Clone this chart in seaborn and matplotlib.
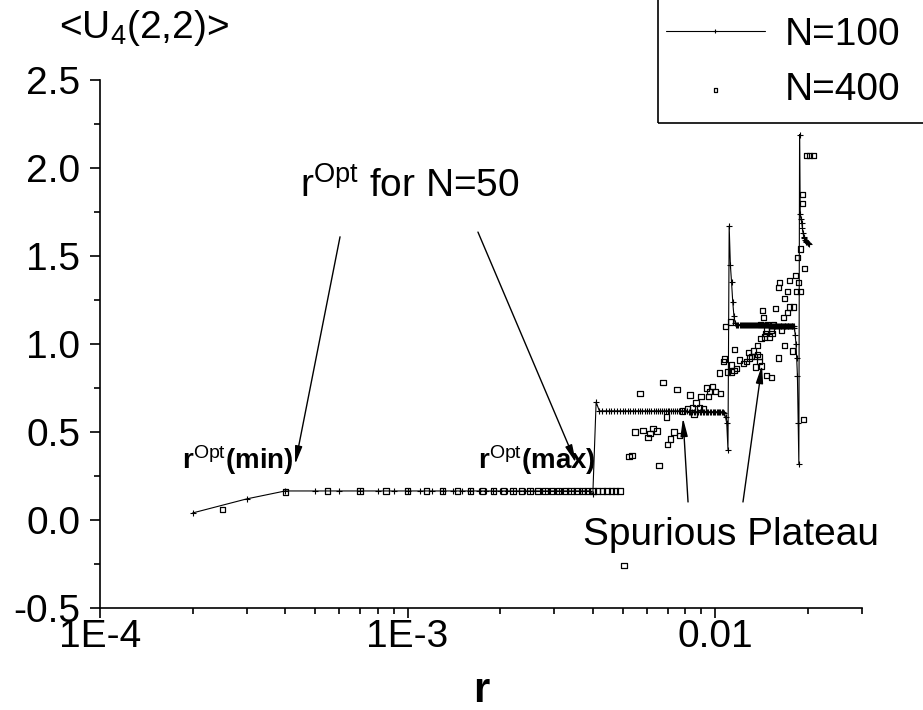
import numpy as np
import pandas as pd
import matplotlib
matplotlib.use("Agg")
import matplotlib.pyplot as plt
import matplotlib.ticker as mticker
from matplotlib.patches import Rectangle
import seaborn as sns

# ---- N=100 : r = k*1e-4, k = 2..202 ----
r100 = np.arange(2, 203) * 1e-4
u100 = ([0.04, 0.12, 0.165] + [0.165] * 35 + [0.145, 0.67]
        + [0.62] * 40 + [0.615] * 25
        + [0.61, 0.585, 0.55, 0.40, 1.67]
        + [1.45, 1.35, 1.24, 1.16, 1.12]
        + [1.11] * 32 + [1.10] * 32
        + [1.09, 1.05, 1.00, 0.92, 0.82, 0.55, 0.32, 2.19]
        + [1.74, 1.71, 1.69, 1.66, 1.63, 1.61, 1.60, 1.59, 1.585,
           1.58, 1.58, 1.575, 1.575, 1.57])

# ---- N=400 : flat part on a regular grid ----
r400_row = np.linspace(2.5e-4, 4.9e-3, 32)
u400_row = [0.06, 0.16] + [0.165] * 30

# ---- N=400 : scattered part ----
r400_scat = [5.05e-3, 5.25e-3, 5.37e-3, 5.49e-3, 5.70e-3, 5.83e-3, 6.05e-3,
             6.14e-3, 6.28e-3, 6.47e-3, 6.57e-3, 6.77e-3, 6.93e-3, 6.98e-3,
             7.14e-3, 7.35e-3, 7.52e-3, 7.64e-3, 7.81e-3, 8.11e-3, 8.29e-3,
             8.42e-3, 8.54e-3, 8.67e-3, 8.87e-3, 9.00e-3, 9.14e-3, 9.35e-3,
             9.49e-3, 9.56e-3, 9.78e-3, 1.000e-2, 1.031e-2, 1.038e-2,
             1.062e-2, 1.070e-2, 1.078e-2, 1.094e-2, 1.119e-2, 1.128e-2,
             1.128e-2, 1.150e-2, 1.153e-2, 1.171e-2, 1.198e-2, 1.234e-2,
             1.262e-2, 1.281e-2, 1.291e-2, 1.310e-2, 1.330e-2, 1.340e-2,
             1.350e-2, 1.371e-2, 1.371e-2, 1.390e-2, 1.391e-2, 1.402e-2,
             1.410e-2, 1.412e-2, 1.423e-2, 1.434e-2, 1.445e-2, 1.460e-2,
             1.466e-2, 1.466e-2, 1.477e-2, 1.500e-2, 1.522e-2, 1.522e-2,
             1.530e-2, 1.545e-2, 1.569e-2, 1.604e-2, 1.604e-2, 1.617e-2,
             1.641e-2, 1.666e-2, 1.678e-2, 1.678e-2, 1.717e-2, 1.717e-2,
             1.742e-2, 1.742e-2, 1.782e-2, 1.796e-2, 1.823e-2, 1.836e-2,
             1.850e-2, 1.864e-2, 1.892e-2, 1.892e-2, 1.921e-2, 1.921e-2,
             1.935e-2, 1.950e-2, 1.979e-2, 2.024e-2, 2.086e-2]
u400_scat = [-0.26, 0.36, 0.365, 0.50, 0.72, 0.51, 0.47,
             0.49, 0.52, 0.505, 0.31, 0.78, 0.585, 0.43,
             0.46, 0.50, 0.74, 0.48, 0.62, 0.635, 0.71,
             0.64, 0.60, 0.665, 0.64, 0.70, 0.635, 0.75,
             0.70, 0.73, 0.76, 0.73, 0.835, 0.72,
             0.90, 0.915, 1.10, 0.84, 1.125, 0.84,
             0.88, 0.85, 0.97, 0.86, 0.91, 0.89,
             0.90, 0.95, 0.92, 0.93, 0.96, 0.93,
             0.87, 0.94, 0.99, 0.90, 0.93, 1.11,
             1.03, 0.875, 1.19, 1.15, 1.04, 1.06,
             1.08, 0.82, 1.11, 1.04, 1.08, 0.81,
             1.06, 1.11, 1.20, 0.92, 1.32, 1.35,
             1.08, 1.15, 1.26, 0.99, 1.18, 1.30,
             1.36, 1.21, 0.96, 1.21, 1.39, 1.30,
             1.49, 1.35, 1.54, 1.30, 1.80, 1.85,
             0.57, 1.43, 2.07, 2.07, 2.07]

df100 = pd.DataFrame({"r": r100, "u": u100})
df400 = pd.DataFrame({"r": np.concatenate([r400_row, r400_scat]),
                      "u": list(u400_row) + u400_scat})

sns.set_theme(style="ticks")
plt.rcParams["font.family"] = ["Liberation Sans", "DejaVu Sans"]
plt.rcParams["mathtext.fontset"] = "custom"
plt.rcParams["mathtext.rm"] = "Liberation Sans"
plt.rcParams["mathtext.it"] = "Liberation Sans:italic"
plt.rcParams["mathtext.bf"] = "Liberation Sans:bold"
plt.rcParams["text.color"] = "black"
plt.rcParams["axes.labelcolor"] = "black"

fig = plt.figure(figsize=(9.23, 7.10), dpi=100)
ax = fig.add_axes([100 / 923, 102 / 710, 762 / 923, 528 / 710])

sns.lineplot(data=df100, x="r", y="u", color="black", linewidth=0.8,
             marker="+", markersize=4, markeredgewidth=0.8,
             markeredgecolor="black", estimator=None, sort=False,
             label="N=100", ax=ax)
sns.scatterplot(data=df400, x="r", y="u", marker="s", s=15,
                facecolor="none", edgecolor="black", linewidth=0.9,
                label="N=400", ax=ax, zorder=3)

ax.set_xscale("log")
ax.set_xlim(1e-4, 0.03)
ax.set_ylim(-0.5, 2.5)
sns.despine(ax=ax)
for s in ["left", "bottom"]:
    ax.spines[s].set_linewidth(1.2)
    ax.spines[s].set_color("black")

ax.set_xticks([1e-4, 1e-3, 1e-2])
ax.set_xticklabels(["1E-4", "1E-3", "0.01"])
ax.xaxis.set_minor_locator(mticker.LogLocator(base=10, subs=np.arange(2, 10)))
ax.xaxis.set_minor_formatter(mticker.NullFormatter())
ax.set_yticks(np.arange(-0.5, 2.51, 0.5))
ax.yaxis.set_major_formatter(mticker.FormatStrFormatter("%.1f"))
ax.yaxis.set_minor_locator(mticker.MultipleLocator(0.25))
ax.tick_params(which="major", direction="out", length=7.2, width=1.2,
               labelsize=28, colors="black")
ax.tick_params(which="minor", direction="out", length=4, width=1.2,
               colors="black")
ax.tick_params(axis="y", which="major", pad=7)
ax.tick_params(axis="x", which="major", pad=1)

ax.set_xlabel("r", fontsize=30, fontweight="bold", labelpad=11)
ax.set_ylabel("<U$_4$(2,2)>", fontsize=28, rotation=0, ha="center",
              va="center")
ax.yaxis.set_label_coords(0.058, 1.098)

# annotations
big = 28
ax.text(0.2625, 0.80, r"r$^{\mathrm{Opt}}$ for N=50", transform=ax.transAxes,
        fontsize=big, ha="left", va="center")
arrow = dict(arrowstyle="-|>,head_length=0.9,head_width=0.18", color="black",
             lw=1, shrinkA=0, shrinkB=0)
ax.annotate("", xy=(0.256, 0.272), xytext=(0.315, 0.703),
            xycoords="axes fraction", arrowprops=arrow)
ax.annotate("", xy=(0.6247, 0.2747), xytext=(0.496, 0.712),
            xycoords="axes fraction", arrowprops=arrow)
ax.text(0.107, 0.28, r"r$^{\mathrm{Opt}}$(min)", transform=ax.transAxes,
        fontsize=20, fontweight="bold", ha="left", va="center")
ax.text(0.496, 0.28, r"r$^{\mathrm{Opt}}$(max)", transform=ax.transAxes,
        fontsize=20, fontweight="bold", ha="left", va="center")
ax.text(0.634, 0.138, "Spurious Plateau", transform=ax.transAxes,
        fontsize=big, ha="left", va="center")
ax.annotate("", xy=(0.7651, 0.3598), xytext=(0.7717, 0.2008),
            xycoords="axes fraction", arrowprops=arrow)
ax.annotate("", xy=(0.8688, 0.4602), xytext=(0.8438, 0.2008),
            xycoords="axes fraction", arrowprops=arrow)

# legend: entries without frame, box drawn so it runs off the top/right edge
leg = ax.legend(loc="upper left", bbox_to_anchor=(658 / 923, 701 / 710),
                bbox_transform=fig.transFigure, fontsize=28, frameon=False,
                handlelength=2.55, handletextpad=0.5, borderpad=0.2,
                labelspacing=0.5, markerscale=0.6, borderaxespad=0)
fig.patches.append(Rectangle((658 / 923, 587 / 710), 0.4, 0.3,
                             transform=fig.transFigure, fill=False,
                             edgecolor="black", linewidth=1.2))

fig.savefig("out.png", dpi=100)
